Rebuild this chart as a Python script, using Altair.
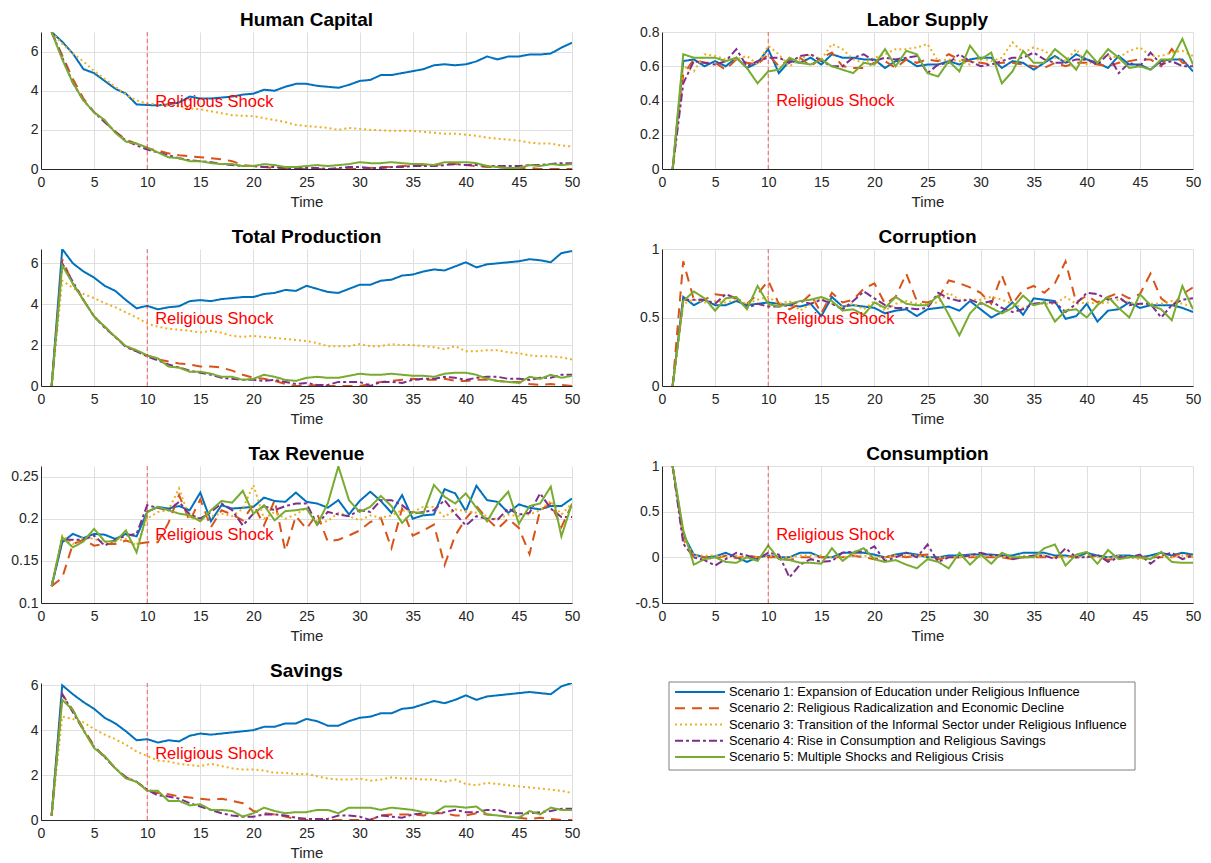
import altair as alt
import pandas as pd

FONT = "Liberation Sans"

time = list(range(1, 51))
scenarios = [
    "Scenario 1: Expansion of Education under Religious Influence",
    "Scenario 2: Religious Radicalization and Economic Decline",
    "Scenario 3: Transition of the Informal Sector under Religious Influence",
    "Scenario 4: Rise in Consumption and Religious Savings",
    "Scenario 5: Multiple Shocks and Religious Crisis",
]
colors = ["#0072BD", "#D95319", "#EDB120", "#7E2F8E", "#77AC30"]
dashes = [[1, 0], [10, 7], [2, 3], [8, 3, 3, 3], [1, 0]]

# Human Capital
hc1 = [7.0,6.5,5.9,5.1,4.9,4.5,4.1,3.85,3.3,3.27, 3.25,3.3,3.4,3.7,3.6,3.6,3.65,3.7,3.8,3.85, 4.05,4.0,4.2,4.35,4.35,4.25,4.2,4.15,4.3,4.5, 4.55,4.8,4.8,4.9,5.0,5.1,5.3,5.35,5.3,5.35, 5.5,5.75,5.6,5.75,5.75,5.85,5.85,5.9,6.2,6.45]
hc2 = [7.0,5.8,4.6,3.6,2.9,2.4,1.9,1.5,1.3,1.05, 0.95,0.8,0.7,0.65,0.6,0.55,0.5,0.4,0.2,0.15, 0.1,0.05,0.05,0,0,0,0,0,0,0, 0.05,0.1,0.1,0.15,0.15,0.2,0.2,0.25,0.25,0.2, 0.15,0.1,0.1,0.05,0.05,0.05,0,0,0,0]
hc3 = [7.0,6.4,5.9,5.5,5.0,4.6,4.2,3.8,3.5,3.35, 3.3,3.25,3.2,3.1,3.05,2.95,2.85,2.75,2.72,2.7, 2.6,2.5,2.4,2.25,2.2,2.15,2.1,2.0,2.1,2.05, 2.0,1.98,1.95,1.95,1.95,1.9,1.85,1.8,1.8,1.75, 1.7,1.6,1.55,1.5,1.45,1.35,1.3,1.3,1.2,1.15]
hc4 = [7.0,5.7,4.4,3.5,2.9,2.4,1.9,1.45,1.2,1.0, 0.85,0.7,0.55,0.45,0.4,0.35,0.25,0.2,0.15,0.15, 0.1,0.1,0.05,0.05,0.05,0.05,0.0,0.05,0.1,0.1, 0.05,0.05,0.1,0.1,0.15,0.15,0.15,0.2,0.25,0.2, 0.2,0.15,0.15,0.15,0.15,0.2,0.2,0.25,0.3,0.3]
hc5 = [7.0,5.6,4.4,3.5,2.9,2.5,1.85,1.4,1.3,1.1, 0.85,0.6,0.55,0.4,0.4,0.3,0.25,0.25,0.15,0.15, 0.25,0.2,0.1,0.1,0.15,0.2,0.15,0.2,0.25,0.35, 0.3,0.3,0.35,0.3,0.25,0.25,0.2,0.35,0.35,0.35, 0.3,0.15,0.1,0.05,0.05,0.2,0.15,0.25,0.2,0.25]

# Labor Supply
ls1 = [0,0.63,0.64,0.6,0.63,0.6,0.65,0.59,0.62,0.7, 0.56,0.63,0.62,0.65,0.61,0.67,0.65,0.65,0.64,0.64, 0.59,0.63,0.64,0.6,0.61,0.61,0.63,0.61,0.64,0.65, 0.65,0.59,0.63,0.62,0.58,0.62,0.66,0.62,0.67,0.64, 0.62,0.59,0.66,0.61,0.61,0.58,0.63,0.64,0.64,0.57]
ls2 = [0,0.55,0.64,0.62,0.62,0.58,0.64,0.62,0.61,0.67, 0.6,0.64,0.65,0.6,0.65,0.68,0.6,0.59,0.59,0.62, 0.63,0.59,0.64,0.62,0.64,0.63,0.67,0.64,0.63,0.62, 0.61,0.62,0.62,0.61,0.6,0.59,0.62,0.6,0.62,0.62, 0.61,0.6,0.62,0.63,0.64,0.64,0.6,0.7,0.62,0.61]
ls3 = [0,0.6,0.57,0.67,0.66,0.64,0.64,0.66,0.61,0.72, 0.67,0.6,0.64,0.67,0.64,0.73,0.7,0.64,0.62,0.65, 0.67,0.7,0.7,0.71,0.73,0.63,0.64,0.63,0.61,0.65, 0.63,0.65,0.74,0.68,0.71,0.69,0.65,0.63,0.7,0.61, 0.64,0.66,0.65,0.69,0.71,0.66,0.66,0.68,0.69,0.66]
ls4 = [0,0.5,0.63,0.62,0.61,0.63,0.7,0.6,0.63,0.65, 0.65,0.62,0.66,0.67,0.63,0.6,0.6,0.65,0.67,0.63, 0.65,0.64,0.65,0.66,0.56,0.61,0.62,0.67,0.63,0.6, 0.61,0.63,0.65,0.65,0.68,0.64,0.62,0.62,0.64,0.64, 0.61,0.67,0.56,0.62,0.6,0.68,0.61,0.63,0.6,0.6]
ls5 = [0,0.67,0.65,0.65,0.65,0.63,0.65,0.59,0.5,0.57, 0.58,0.65,0.62,0.61,0.64,0.6,0.58,0.56,0.62,0.61, 0.7,0.6,0.69,0.67,0.56,0.54,0.63,0.57,0.72,0.64, 0.68,0.5,0.57,0.69,0.62,0.62,0.7,0.65,0.58,0.69, 0.62,0.7,0.65,0.59,0.6,0.58,0.64,0.64,0.76,0.61]

# Total Production
tp1 = [0,6.7,6.0,5.6,5.3,4.9,4.65,4.2,3.8,3.92, 3.75,3.85,3.9,4.15,4.2,4.15,4.25,4.3,4.35,4.35, 4.5,4.55,4.7,4.65,4.9,4.75,4.6,4.55,4.75,4.95, 4.95,5.15,5.2,5.4,5.45,5.6,5.7,5.65,5.85,6.05, 5.8,5.95,6.0,6.05,6.1,6.2,6.15,6.05,6.5,6.6]
tp2 = [0,6.2,5.0,4.2,3.4,2.9,2.4,1.95,1.7,1.5, 1.3,1.2,1.1,1.05,0.95,0.95,0.9,0.75,0.55,0.4, 0.35,0.25,0.1,0,0,0.05,0,0,0,0, 0.1,0.2,0.25,0.3,0.35,0.3,0.3,0.35,0.25,0.25, 0.3,0.3,0.25,0.2,0.2,0.1,0.05,0.1,0.05,0]
tp3 = [0,5.15,4.8,4.5,4.3,4.05,3.85,3.6,3.35,3.05, 2.9,2.8,2.75,2.7,2.62,2.7,2.6,2.45,2.4,2.45, 2.4,2.35,2.3,2.25,2.2,2.1,1.95,1.95,1.95,2.05, 1.95,1.95,2.05,2.0,2.0,1.95,1.9,1.8,1.95,1.7, 1.7,1.75,1.75,1.65,1.6,1.5,1.45,1.45,1.4,1.3]
tp4 = [0,6.0,5.1,4.2,3.4,2.85,2.4,1.9,1.7,1.45, 1.25,1.05,0.9,0.75,0.65,0.55,0.4,0.35,0.3,0.3, 0.25,0.3,0.2,0.1,0.15,0.05,0.05,0.2,0.2,0.2, 0.0,0.2,0.2,0.15,0.3,0.35,0.35,0.45,0.4,0.3, 0.4,0.45,0.45,0.35,0.35,0.3,0.4,0.4,0.55,0.55]
tp5 = [0,5.9,5.0,4.2,3.4,2.9,2.4,1.95,1.75,1.5, 1.35,0.95,0.9,0.7,0.7,0.6,0.45,0.45,0.3,0.35, 0.55,0.45,0.3,0.25,0.4,0.45,0.4,0.4,0.5,0.6, 0.55,0.55,0.6,0.55,0.5,0.5,0.45,0.6,0.65,0.65, 0.55,0.35,0.25,0.2,0.15,0.45,0.35,0.55,0.4,0.5]

# Corruption
co1 = [0,0.65,0.59,0.63,0.59,0.59,0.62,0.59,0.6,0.61, 0.6,0.59,0.58,0.6,0.51,0.65,0.58,0.59,0.58,0.57, 0.53,0.55,0.56,0.51,0.56,0.57,0.58,0.55,0.62,0.56, 0.5,0.54,0.61,0.52,0.64,0.63,0.62,0.49,0.51,0.6, 0.47,0.55,0.56,0.61,0.57,0.59,0.59,0.59,0.57,0.54]
co2 = [0,0.91,0.63,0.63,0.67,0.66,0.64,0.6,0.67,0.77, 0.6,0.56,0.6,0.67,0.53,0.68,0.61,0.63,0.71,0.75, 0.6,0.65,0.82,0.62,0.61,0.64,0.77,0.75,0.72,0.68, 0.6,0.81,0.6,0.7,0.73,0.68,0.75,0.91,0.61,0.66, 0.61,0.65,0.68,0.64,0.67,0.82,0.64,0.58,0.67,0.72]
co3 = [0,0.6,0.63,0.61,0.62,0.61,0.63,0.6,0.63,0.65, 0.6,0.62,0.55,0.6,0.64,0.6,0.58,0.6,0.56,0.62, 0.55,0.6,0.62,0.6,0.6,0.61,0.68,0.63,0.63,0.63, 0.65,0.63,0.6,0.57,0.6,0.6,0.6,0.65,0.6,0.61, 0.6,0.61,0.63,0.61,0.6,0.6,0.6,0.62,0.6,0.58]
co4 = [0,0.63,0.63,0.63,0.6,0.67,0.64,0.57,0.6,0.58, 0.58,0.59,0.62,0.6,0.63,0.6,0.56,0.62,0.69,0.64, 0.59,0.57,0.57,0.56,0.57,0.68,0.64,0.62,0.63,0.6, 0.62,0.57,0.54,0.56,0.6,0.61,0.61,0.54,0.6,0.68, 0.67,0.63,0.65,0.59,0.6,0.6,0.5,0.59,0.63,0.64]
co5 = [0,0.62,0.69,0.64,0.55,0.64,0.65,0.56,0.73,0.6, 0.58,0.6,0.62,0.63,0.65,0.62,0.55,0.56,0.52,0.61, 0.57,0.65,0.6,0.59,0.59,0.66,0.52,0.37,0.53,0.61, 0.57,0.53,0.57,0.66,0.59,0.61,0.47,0.55,0.56,0.5, 0.59,0.65,0.57,0.5,0.67,0.59,0.56,0.48,0.73,0.56]

# Tax Revenue
tx1 = [0.12,0.172,0.182,0.177,0.182,0.181,0.176,0.182,0.179,0.208, 0.214,0.212,0.215,0.21,0.231,0.197,0.216,0.212,0.213,0.214, 0.225,0.221,0.22,0.231,0.22,0.218,0.213,0.222,0.205,0.221, 0.232,0.221,0.207,0.228,0.2,0.204,0.205,0.235,0.23,0.209, 0.239,0.222,0.22,0.207,0.217,0.213,0.211,0.215,0.215,0.224]
tx2 = [0.12,0.13,0.17,0.175,0.168,0.17,0.17,0.174,0.17,0.172, 0.172,0.195,0.228,0.197,0.223,0.19,0.21,0.205,0.198,0.217, 0.192,0.222,0.162,0.203,0.188,0.206,0.173,0.175,0.18,0.186, 0.196,0.201,0.165,0.212,0.18,0.186,0.193,0.145,0.18,0.2, 0.215,0.2,0.188,0.2,0.189,0.158,0.21,0.218,0.19,0.217]
tx3 = [0.12,0.18,0.17,0.178,0.176,0.172,0.174,0.176,0.168,0.2, 0.208,0.21,0.236,0.2,0.201,0.203,0.206,0.203,0.212,0.24, 0.2,0.208,0.2,0.205,0.213,0.196,0.197,0.207,0.203,0.198, 0.204,0.201,0.204,0.21,0.208,0.214,0.214,0.202,0.211,0.209, 0.207,0.203,0.199,0.205,0.203,0.205,0.21,0.221,0.205,0.218]
tx4 = [0.12,0.175,0.175,0.175,0.18,0.168,0.175,0.18,0.182,0.216, 0.213,0.21,0.22,0.205,0.2,0.208,0.218,0.21,0.192,0.206, 0.215,0.21,0.215,0.218,0.218,0.193,0.208,0.205,0.203,0.21, 0.208,0.222,0.222,0.216,0.206,0.208,0.21,0.222,0.206,0.192, 0.203,0.2,0.199,0.212,0.205,0.207,0.23,0.212,0.202,0.202]
tx5 = [0.12,0.178,0.166,0.173,0.188,0.173,0.173,0.186,0.16,0.208, 0.214,0.21,0.206,0.204,0.197,0.21,0.221,0.219,0.233,0.206, 0.216,0.198,0.209,0.21,0.212,0.193,0.218,0.262,0.222,0.208, 0.214,0.227,0.215,0.195,0.208,0.206,0.24,0.226,0.218,0.23, 0.213,0.197,0.218,0.232,0.194,0.215,0.218,0.238,0.179,0.218]

# Consumption
cs1 = [1,0.25,0.03,0.0,0.01,0.05,0.0,-0.05,0.0,0.02, 0.0,0.0,0.05,0.05,0.0,0.0,0.05,0.05,0.05,0.03, 0.0,0.03,0.05,0.03,0.0,0.0,0.02,0.02,0.03,0.03, 0.03,0.02,0.02,0.05,0.05,0.05,0.02,0.02,0.0,0.05, 0.02,0.0,0.02,0.02,0.0,0.02,0.05,0.02,0.05,0.03]
cs2 = [1,0.2,0.0,0.0,-0.02,0.02,-0.01,0.02,0.0,0.0, 0.0,-0.03,0.0,0.0,0.0,0.0,0.0,0.02,0.0,-0.02, 0.0,0.02,0.0,0.02,0.03,-0.02,0.0,0.0,0.0,0.0, 0.0,0.0,-0.02,0.0,0.0,0.0,0.0,0.02,0.0,0.0, 0.02,-0.03,0.0,0.0,0.0,0.0,0.0,0.0,0.05,0.0]
cs3 = [1,0.22,0.02,0.02,0.02,0.0,0.02,0.0,0.0,0.02, 0.0,0.0,0.02,0.02,0.02,0.0,0.0,0.02,0.02,0.0, 0.0,0.02,0.02,0.02,0.0,0.0,0.0,0.0,0.02,0.0, 0.02,0.0,0.0,0.02,0.0,0.02,0.0,0.0,0.0,0.02, 0.0,0.0,0.02,0.0,-0.02,0.0,0.02,0.0,0.02,0.0]
cs4 = [1,0.15,0.0,-0.03,-0.09,-0.02,0.05,0.02,-0.02,0.05, 0.03,-0.22,-0.08,-0.02,-0.05,-0.04,0.05,0.06,0.06,0.12, -0.04,0.0,0.05,0.0,0.14,-0.05,0.0,0.0,0.02,0.05, 0.02,0.02,-0.02,0.0,0.02,0.02,-0.02,0.1,0.0,0.0, 0.03,-0.05,0.0,0.0,0.03,-0.07,0.02,0.05,-0.02,0.02]
cs5 = [1,0.3,-0.08,-0.02,0.0,-0.05,-0.06,0.0,-0.04,0.13, -0.02,-0.03,-0.06,-0.06,-0.07,0.1,-0.04,0.05,0.1,-0.02, -0.05,-0.03,-0.08,-0.12,-0.02,-0.05,-0.12,0.05,-0.08,0.03, -0.07,0.05,0.0,0.0,0.0,0.1,0.14,-0.09,0.03,0.06, -0.07,0.08,-0.02,0.0,0.0,-0.02,0.06,-0.05,-0.06,-0.06]

# Savings
sv1 = [0.2,6.0,5.6,5.25,4.95,4.55,4.3,3.95,3.55,3.6, 3.45,3.55,3.5,3.75,3.85,3.8,3.85,3.9,3.95,4.0, 4.15,4.15,4.3,4.3,4.5,4.4,4.2,4.2,4.4,4.55, 4.6,4.75,4.75,4.95,5.0,5.15,5.3,5.2,5.35,5.55, 5.35,5.5,5.55,5.6,5.65,5.7,5.65,5.6,5.95,6.1]
sv2 = [0.2,5.6,4.9,4.05,3.3,2.8,2.3,1.9,1.7,1.35, 1.2,1.15,1.05,1.0,0.95,0.9,0.95,0.85,0.75,0.4, 0.3,0.25,0.15,0.05,0,0,0,0,0,0, 0,0.2,0.25,0.25,0.25,0.2,0.3,0.3,0.2,0.2, 0.3,0.25,0.2,0.15,0.1,0.05,0.1,0.05,0,0]
sv3 = [0.2,4.6,4.5,4.35,4.05,3.8,3.6,3.35,3.05,2.85, 2.65,2.6,2.5,2.45,2.4,2.5,2.4,2.3,2.25,2.25, 2.2,2.1,2.1,2.05,2.05,1.95,1.85,1.8,1.8,1.85, 1.75,1.8,1.9,1.85,1.85,1.8,1.8,1.7,1.8,1.6, 1.55,1.65,1.6,1.55,1.5,1.45,1.4,1.35,1.3,1.2]
sv4 = [0.2,5.6,4.8,4.0,3.25,2.8,2.3,1.9,1.7,1.35, 1.1,1.05,0.95,0.75,0.6,0.45,0.3,0.2,0.15,0.15, 0.25,0.25,0.2,0.1,0.05,0.05,0.05,0.2,0.2,0.15, 0.0,0.2,0.15,0.1,0.25,0.3,0.3,0.35,0.45,0.35, 0.35,0.45,0.45,0.3,0.3,0.3,0.35,0.4,0.5,0.5]
sv5 = [0.2,5.35,4.9,4.0,3.2,2.85,2.3,1.85,1.7,1.3, 1.3,0.85,0.85,0.65,0.7,0.45,0.45,0.4,0.15,0.3, 0.55,0.4,0.3,0.35,0.35,0.45,0.45,0.3,0.55,0.55, 0.55,0.45,0.55,0.5,0.45,0.35,0.3,0.6,0.6,0.55, 0.6,0.25,0.2,0.15,0.1,0.4,0.25,0.55,0.45,0.45]

W, H = 531, 137

color_scale = alt.Scale(domain=scenarios, range=colors)
dash_scale = alt.Scale(domain=scenarios, range=dashes)


def panel(title, series, ydom, yticks, text_y):
    rows = []
    for name, vals in zip(scenarios, series):
        for t, v in zip(time, vals):
            rows.append({"t": t, "v": v, "s": name})
    df = pd.DataFrame(rows)
    x = alt.X("t:Q", scale=alt.Scale(domain=[0, 50], nice=False),
              axis=alt.Axis(values=list(range(0, 51, 5)), title="Time", labelOverlap=False,
                            labelFlush=False))
    if min(yticks) < 0:
        yaxis = alt.Axis(values=yticks, labelExpr="toString(datum.value)", title=None,
                         labelOverlap=False, labelFlush=False)
    else:
        yaxis = alt.Axis(values=yticks, format="~g", title=None, labelOverlap=False,
                         tickCount=len(yticks), labelFlush=False)
    y = alt.Y("v:Q", scale=alt.Scale(domain=ydom, nice=False, zero=False), axis=yaxis)
    lines = alt.Chart(df).mark_line(strokeWidth=2, clip=True).encode(
        x=x, y=y,
        color=alt.Color("s:N", scale=color_scale, legend=None),
        strokeDash=alt.StrokeDash("s:N", scale=dash_scale, legend=None),
    )
    one = pd.DataFrame({"a": [0]})
    rule = alt.Chart(one).mark_rule(color="#FF0000", strokeDash=[4, 3], strokeWidth=1, opacity=0.6).encode(
        x=alt.datum(10)
    )
    label = alt.Chart(one).mark_text(text="Religious Shock", align="left", baseline="middle",
                                      color="#FF0000", fontSize=16.5, font=FONT).encode(
        x=alt.datum(10.75), y=alt.datum(text_y)
    )
    head = alt.Chart(pd.DataFrame({"title": [title]})).mark_text(
        align="center", baseline="alphabetic", fontSize=19, fontWeight="bold", font=FONT, color="#000000"
    ).encode(x=alt.value(W / 2), y=alt.value(-6), text="title:N")
    return alt.layer(lines, rule, label, head).properties(width=W, height=H)


p_hc = panel("Human Capital", [hc1, hc2, hc3, hc4, hc5], [0, 7], [0, 2, 4, 6], 3.4)
p_ls = panel("Labor Supply", [ls1, ls2, ls3, ls4, ls5], [0, 0.8], [0, 0.2, 0.4, 0.6, 0.8], 0.4)
p_tp = panel("Total Production", [tp1, tp2, tp3, tp4, tp5], [0, 6.7], [0, 2, 4, 6], 3.3)
p_co = panel("Corruption", [co1, co2, co3, co4, co5], [0, 1], [0, 0.5, 1], 0.49)
p_tx = panel("Tax Revenue", [tx1, tx2, tx3, tx4, tx5], [0.1, 0.2625], [0.1, 0.15, 0.2, 0.25], 0.181)
p_cs = panel("Consumption", [cs1, cs2, cs3, cs4, cs5], [-0.5, 1], [-0.5, 0, 0.5, 1], 0.25)
p_sv = panel("Savings", [sv1, sv2, sv3, sv4, sv5], [0, 6.1], [0, 2, 4, 6], 2.95)

# legend cell
leg_df = pd.DataFrame({"s": scenarios})
ly = alt.Y("s:N", scale=alt.Scale(domain=scenarios, type="point", padding=0.554), axis=None)
box = alt.Chart(pd.DataFrame({"a": [0]})).mark_rect(fill="white", stroke="#7f7f7f", strokeWidth=1).encode(
    x=alt.value(7), x2=alt.value(473), y=alt.value(-1), y2=alt.value(87)
)
leg_lines = alt.Chart(leg_df).mark_rule(strokeWidth=2).encode(
    x=alt.value(13), x2=alt.value(63), y=ly,
    color=alt.Color("s:N", scale=color_scale, legend=None),
    strokeDash=alt.StrokeDash("s:N", scale=dash_scale, legend=None),
)
leg_text = alt.Chart(leg_df).mark_text(align="left", baseline="middle", fontSize=12.8, font=FONT,
                                       color="#000000").encode(
    x=alt.value(67), y=ly, text="s:N"
)
legend = alt.layer(box, leg_lines, leg_text).properties(width=480, height=83)

chart = alt.concat(p_hc, p_ls, p_tp, p_co, p_tx, p_cs, p_sv, legend, columns=2,
                   spacing={"row": 19, "column": 54}).properties(
    padding={"left": 2, "top": 3, "right": 2, "bottom": 0}
).configure_view(stroke=None).configure_axis(
    grid=True, gridColor="#dfdfdf", gridWidth=1,
    domainColor="#262626", domainWidth=1,
    ticks=False, labelOverlap=False, labelFlush=False,
    labelFont=FONT, labelFontSize=14, labelColor="#262626",
    titleFont=FONT, titleFontSize=15, titleColor="#262626", titleFontWeight="normal", titlePadding=5,
).configure_axisX(labelPadding=6).configure_axisY(labelPadding=3).resolve_scale(
    color="shared", strokeDash="shared")

chart.save("out.html", embed_options={"renderer": "svg", "actions": False})
